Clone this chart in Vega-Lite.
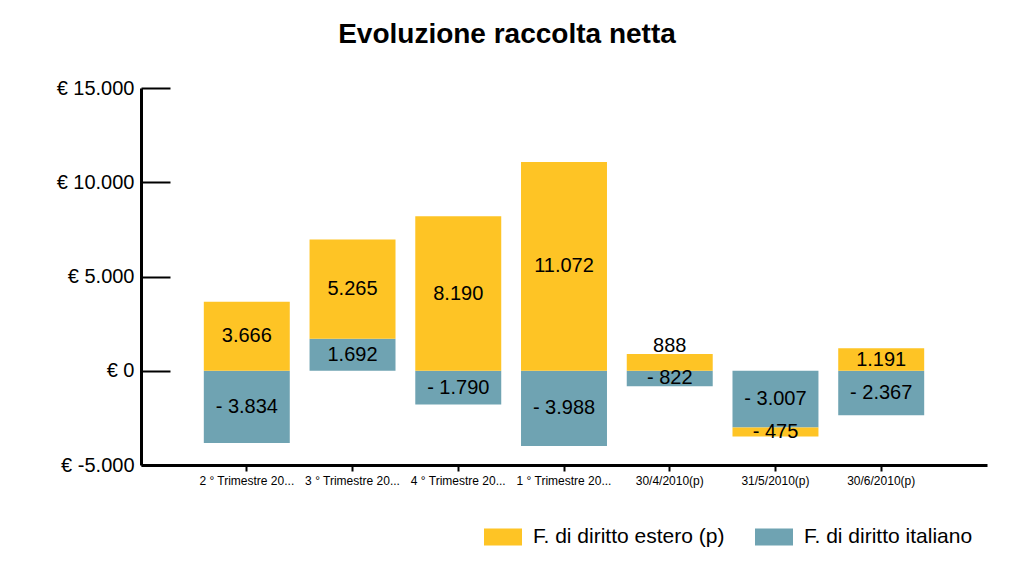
{
  "$schema": "https://vega.github.io/schema/vega-lite/v6.json",
  "width": 846,
  "height": 377,
  "autosize": {"type": "none"},
  "padding": {"left": 141, "top": 88, "right": 37, "bottom": 112},
  "background": "white",
  "config": {
    "view": {"stroke": null},
    "font": "Liberation Sans",
    "text": {"font": "Liberation Sans"}
  },
  "title": {
    "text": "Evoluzione raccolta netta",
    "fontSize": 28,
    "fontWeight": "bold",
    "font": "Liberation Sans",
    "color": "#000000",
    "anchor": "start",
    "dx": 282,
    "offset": 29
  },
  "data": {
    "values": [
      {"cat": "2 ° Trimestre 20...", "serie": "F. di diritto italiano", "v": -3834, "ord": 1},
      {"cat": "2 ° Trimestre 20...", "serie": "F. di diritto estero (p)", "v": 3666, "ord": 2},
      {"cat": "3 ° Trimestre 20...", "serie": "F. di diritto italiano", "v": 1692, "ord": 1},
      {"cat": "3 ° Trimestre 20...", "serie": "F. di diritto estero (p)", "v": 5265, "ord": 2},
      {"cat": "4 ° Trimestre 20...", "serie": "F. di diritto italiano", "v": -1790, "ord": 1},
      {"cat": "4 ° Trimestre 20...", "serie": "F. di diritto estero (p)", "v": 8190, "ord": 2},
      {"cat": "1 ° Trimestre 20...", "serie": "F. di diritto italiano", "v": -3988, "ord": 1},
      {"cat": "1 ° Trimestre 20...", "serie": "F. di diritto estero (p)", "v": 11072, "ord": 2},
      {"cat": "30/4/2010(p)", "serie": "F. di diritto italiano", "v": -822, "ord": 1},
      {"cat": "30/4/2010(p)", "serie": "F. di diritto estero (p)", "v": 888, "ord": 2},
      {"cat": "31/5/2010(p)", "serie": "F. di diritto italiano", "v": -3007, "ord": 1},
      {"cat": "31/5/2010(p)", "serie": "F. di diritto estero (p)", "v": -475, "ord": 2},
      {"cat": "30/6/2010(p)", "serie": "F. di diritto italiano", "v": -2367, "ord": 1},
      {"cat": "30/6/2010(p)", "serie": "F. di diritto estero (p)", "v": 1191, "ord": 2}
    ]
  },
  "transform": [
    {"stack": "v", "groupby": ["cat"], "sort": [{"field": "ord", "order": "ascending"}], "as": ["v0", "v1"]},
    {"calculate": "datum.v > 0 && datum.v < 1000 ? datum.v1 + 420 : (datum.v0 + datum.v1) / 2", "as": "mid"},
    {"calculate": "(datum.v < 0 ? '- ' : '') + replace(format(abs(datum.v), ',d'), ',', '.')", "as": "lbl"}
  ],
  "encoding": {
    "x": {
      "field": "cat",
      "type": "nominal",
      "sort": null,
      "scale": {"paddingInner": 0.187, "paddingOuter": 0.594},
      "axis": {
        "title": null,
        "labelAngle": 0,
        "labelFontSize": 12,
        "labelColor": "#000000",
        "labelFont": "Liberation Sans",
        "labelPadding": 4,
        "labelLimit": 200,
        "domainColor": "#000000",
        "domainWidth": 3,
        "tickColor": "#000000",
        "tickWidth": 2,
        "tickSize": 6
      }
    }
  },
  "layer": [
    {
      "mark": {"type": "bar"},
      "encoding": {
        "y": {
          "field": "v0",
          "type": "quantitative",
          "scale": {"domain": [-5000, 15000], "nice": false, "zero": false},
          "axis": {
            "title": null,
            "values": [-5000, 0, 5000, 10000, 15000],
            "labelExpr": "'€ ' + (datum.value < 0 ? '-' : '') + replace(format(abs(datum.value), ',d'), ',', '.')",
            "labelFontSize": 20,
            "labelColor": "#000000",
            "labelFont": "Liberation Sans",
            "labelPadding": 36,
            "grid": false,
            "domainColor": "#000000",
            "domainWidth": 3,
            "tickColor": "#000000",
            "tickWidth": 2,
            "tickSize": -29
          }
        },
        "y2": {"field": "v1"},
        "color": {
          "field": "serie",
          "type": "nominal",
          "scale": {
            "domain": ["F. di diritto estero (p)", "F. di diritto italiano"],
            "range": ["#FEC425", "#6FA3B2"]
          },
          "legend": {
            "title": null,
            "orient": "none",
            "direction": "horizontal",
            "columns": 2,
            "legendX": 343,
            "legendY": 430,
            "padding": 0,
            "columnPadding": 30,
            "labelFontSize": 21,
            "labelFont": "Liberation Sans",
            "labelColor": "#000000",
            "labelOffset": 11,
            "labelLimit": 400,
            "symbolType": "M-1,-0.45H1V0.45H-1Z",
            "symbolSize": 1444,
            "symbolStrokeWidth": 0,
            "symbolOpacity": 1
          }
        }
      }
    },
    {
      "mark": {"type": "text", "fontSize": 20, "color": "#000000", "baseline": "middle", "align": "center"},
      "encoding": {
        "y": {"field": "mid", "type": "quantitative", "scale": {"domain": [-5000, 15000], "nice": false, "zero": false}},
        "text": {"field": "lbl"}
      }
    }
  ]
}
